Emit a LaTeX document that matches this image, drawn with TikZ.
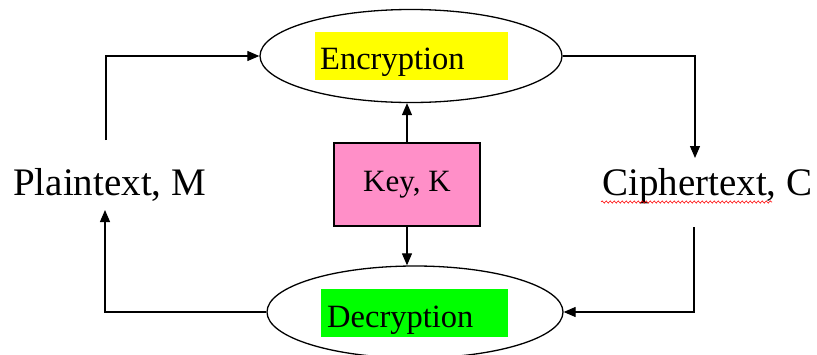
\documentclass[tikz,border=0pt]{standalone}
\usepackage{fontspec}
\setmainfont{Liberation Serif}
\usetikzlibrary{arrows.meta,decorations.pathmorphing,shapes.geometric}
\definecolor{keypink}{RGB}{255,143,200}
\definecolor{hlyellow}{RGB}{255,255,0}
\definecolor{hlgreen}{RGB}{0,255,0}
\begin{document}
\begin{tikzpicture}[x=1pt,y=-1pt,
  oval/.style={draw,ellipse,line width=1.3pt},
  arr/.style={line width=1.2pt,-{Triangle[length=12pt,width=10pt]}},
  big/.style={font=\fontsize{39}{44}\selectfont,inner sep=0pt,anchor=base west},
  mid/.style={font=\fontsize{32.5}{36}\selectfont,inner sep=0pt,anchor=base west}]
\useasboundingbox (0,0) rectangle (817,354);
\fill[white] (0,0) rectangle (817,354);

% process ovals
\node[oval,minimum width=302pt,minimum height=93pt] (enc) at (411,56) {};
\node[oval,minimum width=296pt,minimum height=92pt] (dec) at (415,312) {};

% highlighted labels
\fill[hlyellow] (315,32) rectangle (508,80);
\node[mid] (enctxt) at (320,69) {Encryption};
\fill[hlgreen] (321,289) rectangle (508,337);
\node[mid] (dectxt) at (327,327) {Decryption};

% key box
\node[draw,line width=2.6pt,fill=keypink,minimum width=146pt,minimum height=83pt,
      font=\fontsize{31}{34}\selectfont] (key) at (407,184.5) {Key, K};

% plaintext and ciphertext
\node[big] (pt) at (13,195) {Plaintext, M};
\node[big] (ct) at (602,195) {Ciphertext, C};
\draw[red,line width=0.6pt,decorate,decoration={snake,segment length=4pt,amplitude=1.1pt}]
  (ct.base west) ++(-1,7) -- ++(171,0);

% connector end points
\coordinate (ptup) at (106,140);
\coordinate (ptin) at (105,210);
\coordinate (ctin) at (695,158);
\coordinate (ctout) at (694,227);

% cycle
\draw[arr] (ptup) |- (enc.west);
\draw[arr] (enc.east) -| (ctin);
\draw[arr] (ctout) |- (dec.east);
\draw[arr] (dec.west) -| (ptin);
\draw[arr] (key.north) -- (key.north |- enc.south);
\draw[arr] (key.south) -- (key.south |- dec.north);
\end{tikzpicture}
\end{document}
